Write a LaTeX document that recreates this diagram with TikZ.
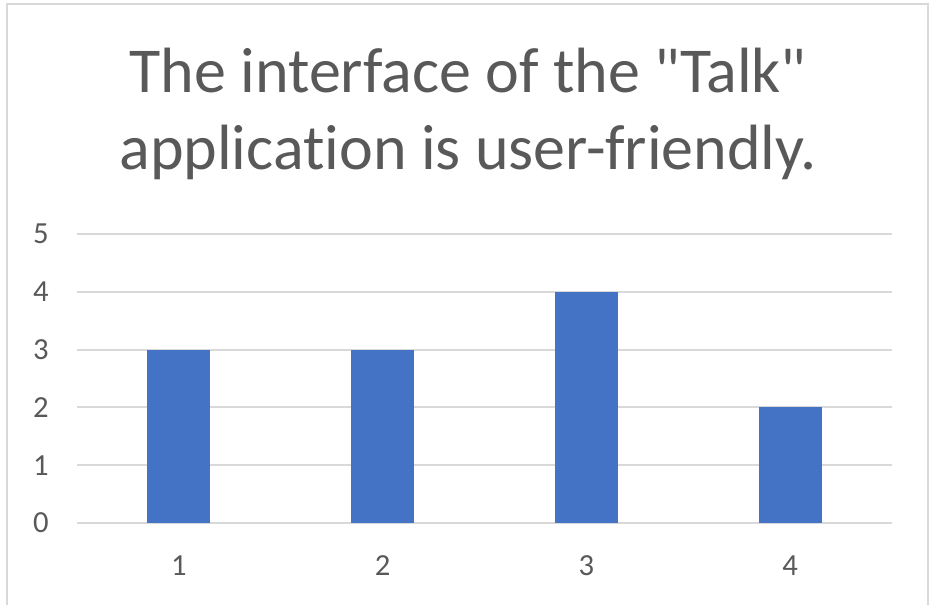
\documentclass[tikz,border=0pt]{standalone}
\usepackage{fontspec}
\setmainfont{Carlito}[Ligatures={TeXOff,CommonOff}]
\definecolor{barblue}{HTML}{4472C4}
\definecolor{gridgray}{HTML}{D9D9D9}
\definecolor{txtgray}{HTML}{595959}

\begin{document}
\begin{tikzpicture}[x=0.75pt,y=-0.75pt]
		\tikzstyle{TitleStyle} = [text=txtgray, font=\fontsize{48}{58}\selectfont, anchor=base, inner sep=0pt]
		\tikzstyle{TickStyle}  = [text=txtgray, font=\fontsize{23}{27}\selectfont, inner sep=0pt]
		\tikzstyle{GridStyle}  = [draw=gridgray, line width=1.5pt]
		\tikzstyle{BarStyle}   = [fill=barblue]

		\useasboundingbox (0,0) rectangle (930,605);
		\draw[gridgray, line width=2pt] (7,605) |- (928,4) -- (928,605);

		\node[TitleStyle] (title1) at (468,93)  {The interface of the "Talk"};
		\node[TitleStyle] (title2) at (468,170) {application is user-friendly.};

		% value axis and grid
		\foreach \v in {0,...,5}{
			\coordinate (g\v) at (77,523-57.8*\v);
			\draw[GridStyle] (g\v) -- ++(815,0);
			\node[TickStyle] (ylab\v) at (41,523-57.8*\v) {\v};
		}

		% bars
		\foreach \c/\h in {1/3,2/3,3/4,4/2}{
			\fill[BarStyle] (178.9+203.75*\c-203.75-31.5,523) rectangle ++(63,-57.8*\h);
			\node[TickStyle] (xlab\c) at (178.9+203.75*\c-203.75,566) {\c};
		}
	\end{tikzpicture}
\end{document}
